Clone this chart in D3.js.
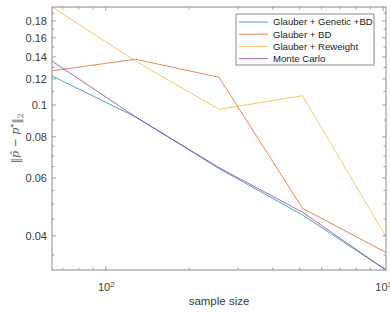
<!DOCTYPE html>
<html>
<head>
<meta charset="utf-8">
<script src="https://cdn.jsdelivr.net/npm/d3@7"></script>
<style>
  body { margin: 0; background: #fff; }
  svg { display: block; }
  text { font-family: "Liberation Sans", Arial, sans-serif; }
</style>
</head>
<body>
<div id="chart"></div>
<script>
// sample sizes (x, log scale)
const sampleSizes = [64, 128, 256, 512, 1024];

// error series ||p_hat - p*||_2
const geneticBD = [0.1225, 0.092, 0.0641, 0.0463, 0.0315];
const glauberBD = [0.127, 0.1377, 0.1214, 0.0485, 0.0356];
const reweight = [0.1985, 0.136, 0.097, 0.1067, 0.0398];
const monteCarlo = [0.136, 0.092, 0.0645, 0.0472, 0.0315];

const seriesNames = ["Glauber + Genetic +BD", "Glauber + BD", "Glauber + Reweight", "Monte Carlo"];
const seriesValues = [geneticBD, glauberBD, reweight, monteCarlo];
const seriesColors = ["#0072BD", "#D95319", "#EDB120", "#7E2F8E"];

const yTickValues = [0.04, 0.06, 0.08, 0.1, 0.12, 0.14, 0.16, 0.18];
const yMinorTicks = [0.035, 0.045, 0.05, 0.055, 0.065, 0.07, 0.075, 0.09, 0.11, 0.13, 0.15, 0.17, 0.19];
const xTickValues = [100, 1000];
const xMinorTicks = [70, 80, 90, 200, 300, 400, 500, 600, 700, 800, 900];

const width = 390, height = 312;
const margin = { top: 7, right: 4, bottom: 42, left: 52 };

const svg = d3.select("#chart").append("svg")
    .attr("width", width)
    .attr("height", height);

const xScale = d3.scaleLog()
    .domain(d3.extent(sampleSizes))
    .range([margin.left, width - margin.right]);

const allValues = seriesValues.flat();
const yScale = d3.scaleLog()
    .domain(d3.extent(allValues))
    .range([height - margin.bottom, margin.top]);

const axisColor = "#8a8a8a";
const textColor = "#3a3a3a";
const tickLen = 4, minorLen = 2.5;

// lines
const line = d3.line()
    .x((d, i) => xScale(sampleSizes[i]))
    .y(d => yScale(d));

seriesValues.forEach((vals, k) => {
    svg.append("path")
        .datum(vals)
        .attr("d", line)
        .attr("fill", "none")
        .attr("stroke", seriesColors[k])
        .attr("stroke-opacity", 0.7)
        .attr("stroke-width", 1);
});

// axes: ticks inward, labels on left/bottom, box round the plot
const x0 = margin.left, x1 = width - margin.right;
const y0 = height - margin.bottom, y1 = margin.top;

const xAxis = d3.axisBottom(xScale)
    .tickValues(xTickValues)
    .tickSize(0)
    .tickPadding(10)
    .tickFormat(() => "");
const gx = svg.append("g")
    .attr("transform", `translate(0,${y0})`)
    .call(xAxis);
gx.select(".domain").remove();
gx.selectAll(".tick").each(function (d) {
    const t = d3.select(this).select("text")
        .attr("fill", textColor)
        .attr("font-size", 11)
        .attr("y", 13)
        .attr("dy", "0.71em");
    t.append("tspan").text("10");
    t.append("tspan").attr("dy", "-0.45em").attr("font-size", 8).text(Math.round(Math.log10(d)));
});

const yAxis = d3.axisLeft(yScale)
    .tickValues(yTickValues)
    .tickSize(0)
    .tickPadding(5)
    .tickFormat(d => d3.format("")(+d.toFixed(2)));
const gy = svg.append("g")
    .attr("transform", `translate(${x0},0)`)
    .call(yAxis);
gy.select(".domain").remove();
gy.selectAll("text")
    .attr("fill", textColor)
    .attr("font-size", 11);

// tick marks on all four sides
const ticks = svg.append("g").attr("stroke", axisColor).attr("stroke-width", 0.8);
xTickValues.concat(xMinorTicks).forEach(v => {
    const len = xTickValues.includes(v) ? tickLen : minorLen;
    const x = xScale(v);
    if (x < x0 || x > x1) return;
    ticks.append("line").attr("x1", x).attr("x2", x).attr("y1", y0).attr("y2", y0 - len);
    ticks.append("line").attr("x1", x).attr("x2", x).attr("y1", y1).attr("y2", y1 + len);
});
yTickValues.concat(yMinorTicks).forEach(v => {
    const len = yTickValues.includes(v) ? tickLen : minorLen;
    const y = yScale(v);
    if (y > y0 || y < y1) return;
    ticks.append("line").attr("x1", x0).attr("x2", x0 + len).attr("y1", y).attr("y2", y);
    ticks.append("line").attr("x1", x1).attr("x2", x1 - len).attr("y1", y).attr("y2", y);
});

svg.append("rect")
    .attr("x", x0).attr("y", y1)
    .attr("width", x1 - x0).attr("height", y0 - y1)
    .attr("fill", "none")
    .attr("stroke", axisColor)
    .attr("stroke-width", 1);

// axis labels
svg.append("text")
    .attr("x", (x0 + x1) / 2)
    .attr("y", 305)
    .attr("text-anchor", "middle")
    .attr("fill", textColor)
    .attr("font-size", 11.5)
    .text("sample size");

const ylab = svg.append("text")
    .attr("transform", `translate(19,${(y0 + y1) / 2}) rotate(-90)`)
    .attr("text-anchor", "middle")
    .attr("fill", "#555")
    .attr("font-size", 11)
    .style("font-family", "'DejaVu Serif', 'Liberation Serif', serif");
ylab.append("tspan").text("\u2016");
ylab.append("tspan").attr("font-style", "italic").text("p\u0302");
ylab.append("tspan").text(" \u2212 ");
ylab.append("tspan").attr("font-style", "italic").text("p");
ylab.append("tspan").attr("dy", "-0.4em").attr("font-size", 7.5).text("*");
ylab.append("tspan").attr("dy", "0.4em").text("\u2016");
ylab.append("tspan").attr("dy", "0.3em").attr("font-size", 7.5).text("2");

// legend
const legend = svg.append("g").attr("transform", "translate(236,14)");
legend.append("rect")
    .attr("width", 138).attr("height", 51)
    .attr("fill", "#fff")
    .attr("stroke", axisColor)
    .attr("stroke-width", 1);
seriesNames.forEach((name, k) => {
    const y = 8 + k * 12.2;
    legend.append("line")
        .attr("x1", 3).attr("x2", 32)
        .attr("y1", y).attr("y2", y)
        .attr("stroke", seriesColors[k])
        .attr("stroke-opacity", 0.7)
        .attr("stroke-width", 1);
    legend.append("text")
        .attr("x", 37).attr("y", y)
        .attr("dy", "0.35em")
        .attr("fill", "#222")
        .attr("font-size", 9.6)
        .text(name);
});
</script>
</body>
</html>
